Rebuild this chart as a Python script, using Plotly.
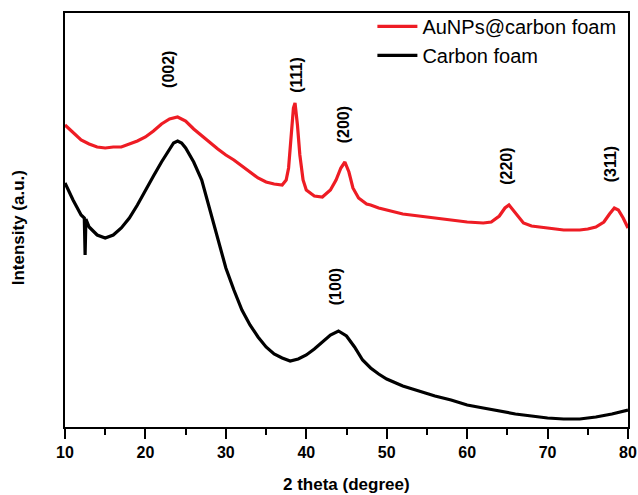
import plotly.graph_objects as go

# 2 theta (degree) and intensity (a.u.)
x_au = [10, 11, 12, 13, 14, 15, 16, 17, 18, 19, 20, 21, 22, 23, 24, 25, 26, 27, 28, 29,
        30, 31, 32, 33, 34, 35, 36, 37, 37.5, 37.8, 38.1, 38.4, 38.6, 38.9, 39.2, 39.6,
        40, 41, 42, 43, 43.7, 44.3, 44.8, 45.3, 45.8, 46.5, 47.5, 48, 49, 50, 52, 54, 56,
        58, 60, 62, 63, 64, 64.7, 65.2, 65.8, 66.5, 67, 68, 70, 72, 74, 75, 76, 77, 77.7,
        78.3, 78.8, 79.4, 80]
y_au = [302, 294, 287, 283, 280, 279, 280, 280, 283, 286, 290, 296, 303, 308, 310, 306,
        298, 291, 284, 278, 272, 267, 261, 255, 249, 245, 243, 242, 247, 259, 287, 319,
        324, 302, 272, 247, 237, 231, 230, 237, 247, 259, 265, 255, 239, 229, 223, 222,
        219, 217, 213, 211, 209, 207, 205, 204, 205, 211, 219, 222, 216, 208, 204, 201,
        199, 197, 197, 198, 200, 205, 213, 219, 217, 209, 199]

x_cf = [10, 11, 12, 12.4, 12.5, 12.6, 13, 14, 15, 16, 17, 18, 19, 20, 21, 22, 23, 23.5,
        24, 24.5, 25, 26, 27, 28, 29, 30, 31, 32, 33, 34, 35, 36, 37, 38, 39, 40, 41, 42,
        43, 44, 45, 46, 47, 48, 49, 50, 52, 54, 56, 58, 60, 62, 64, 66, 68, 70, 72, 74,
        76, 78, 80]
y_cf = [244, 227, 212, 209, 172, 208, 200, 192, 189, 192, 199, 209, 222, 237, 251, 265,
        277, 284, 286, 284, 279, 265, 247, 217, 187, 159, 137, 117, 102, 90, 80, 73, 69,
        66, 68, 72, 78, 85, 92, 96, 91, 80, 67, 59, 53, 48, 41, 36, 31, 27, 22, 19, 16,
        13, 11, 9, 8, 8, 10, 13, 17]

labels = ["(002)", "(111)", "(200)", "(220)", "(311)", "(100)"]
label_x = [22.8, 38.7, 44.6, 64.8, 77.8, 43.6]
label_y = [358, 352, 302, 261, 263, 140]

x_ticks = [10, 20, 30, 40, 50, 60, 70, 80]

FONT = "Liberation Sans, Arial, sans-serif"

fig = go.Figure()
fig.add_trace(go.Scatter(x=x_au, y=y_au, mode="lines", name="AuNPs@carbon foam",
                         line=dict(color="#ee1c24", width=3.2)))
fig.add_trace(go.Scatter(x=x_cf, y=y_cf, mode="lines", name="Carbon foam",
                         line=dict(color="#000000", width=3.2)))

for t, ax, ay in zip(labels, label_x, label_y):
    fig.add_annotation(x=ax, y=ay, xref="x", yref="y", text="<b>%s</b>" % t,
                       textangle=-90, showarrow=False,
                       font=dict(family=FONT, size=16, color="black"),
                       xanchor="center", yanchor="middle")

fig.add_annotation(x=0.5, y=-0.138, xref="paper", yref="paper",
                   text="<b>2 theta (degree)</b>", showarrow=False,
                   font=dict(family=FONT, size=17, color="black"),
                   xanchor="center", yanchor="middle")
fig.add_annotation(x=-47 / 563, y=0.48, xref="paper", yref="paper",
                   text="<b>Intensity (a.u.)</b>", showarrow=False, textangle=-90,
                   font=dict(family=FONT, size=17, color="black"),
                   xanchor="center", yanchor="middle")

fig.update_layout(
    width=638, height=495,
    margin=dict(l=65, r=10, t=13, b=68, autoexpand=False),
    paper_bgcolor="white", plot_bgcolor="white",
    showlegend=True,
    legend=dict(x=0.546, y=1.015, xanchor="left", yanchor="top",
                font=dict(family=FONT, size=20, color="black"),
                bgcolor="rgba(0,0,0,0)", borderwidth=0, tracegroupgap=0,
                itemwidth=40),
    font=dict(family=FONT, color="black"),
)
fig.update_xaxes(range=[10, 80], tickvals=x_ticks,
                 ticktext=["<b>%d</b>" % v for v in x_ticks],
                 ticks="outside", ticklen=10, tickwidth=2, tickcolor="black",
                 minor=dict(dtick=5, tick0=0, ticks="outside", ticklen=6, tickwidth=2,
                            tickcolor="black"),
                 tickfont=dict(family=FONT, size=16, color="black"),
                 showline=True, linewidth=2, linecolor="black", mirror=True,
                 showgrid=False, zeroline=False)
fig.update_yaxes(range=[0, 414], showticklabels=False, ticks="",
                 showline=True, linewidth=2, linecolor="black", mirror=True,
                 showgrid=False, zeroline=False)

fig.write_html("out.html", config={"displayModeBar": False},
               post_script="document.body.style.margin='0';document.body.style.overflow='hidden';")
